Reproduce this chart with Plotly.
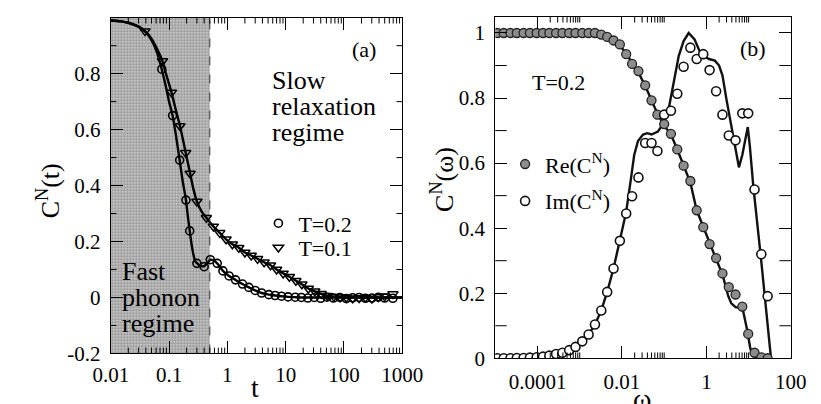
import plotly.graph_objects as go

W, H = 821, 404
FONT = "Liberation Serif"

# ---------------- Panel (a) data ----------------
t_circ_02 = [0.075, 0.115, 0.152, 0.195, 0.226, 0.30, 0.40, 0.51, 0.67, 0.84, 1.07, 1.38, 1.82, 2.34, 3.0,
             3.87, 5.15, 6.6, 8.5, 11, 14.6, 18.6, 24, 31, 40, 51, 66, 85, 110, 141, 182, 234, 302, 389, 501, 692]
c_circ_02 = [0.816, 0.650, 0.491, 0.348, 0.238, 0.122, 0.110, 0.135, 0.122, 0.095, 0.077, 0.063, 0.048, 0.036, 0.025,
             0.016, 0.010, 0.007, 0.0045, 0.002, 0.001, 0.0, -0.002, 0.0, -0.003, 0.001, -0.002, 0.0, -0.004, -0.001,
             0.0, -0.003, -0.002, 0.001, -0.002, -0.003]

t_tri_01 = [0.0387, 0.077, 0.11, 0.154, 0.193, 0.23, 0.30, 0.436, 0.575, 0.74, 0.95, 1.22, 1.57, 2.0, 2.57, 3.3,
            4.27, 5.5, 7.0, 9.06, 11.6, 15, 19, 24.5, 31.6, 40.7, 52, 67, 86, 110, 141, 182, 234, 302, 389, 501, 692]
c_tri_01 = [0.952, 0.845, 0.733, 0.613, 0.517, 0.443, 0.343, 0.285, 0.254, 0.231, 0.208, 0.190, 0.178, 0.161, 0.150,
            0.138, 0.126, 0.115, 0.100, 0.086, 0.074, 0.060, 0.047, 0.032, 0.022, 0.013, 0.006, 0.003, 0.001, 0.0,
            -0.003, -0.002, 0.0, -0.004, 0.002, 0.004, 0.012]

t_line_02 = [0.01, 0.015, 0.02, 0.03, 0.04, 0.05, 0.06, 0.075, 0.09, 0.1, 0.115, 0.13, 0.152, 0.17, 0.195, 0.21,
             0.226, 0.25, 0.28, 0.32, 0.36, 0.40, 0.45, 0.51, 0.58, 0.67, 0.84, 1.07, 1.38, 1.82, 2.34, 3.0, 3.87,
             5.15, 6.6, 8.5, 11, 15, 20, 30, 50, 100, 200, 500, 1000]
c_line_02 = [0.990, 0.987, 0.982, 0.968, 0.948, 0.920, 0.884, 0.816, 0.745, 0.700, 0.650, 0.585, 0.491, 0.42, 0.348,
             0.29, 0.238, 0.175, 0.13, 0.118, 0.112, 0.112, 0.122, 0.135, 0.132, 0.122, 0.095, 0.077, 0.063, 0.048,
             0.036, 0.025, 0.016, 0.010, 0.007, 0.0045, 0.002, 0.001, 0.0, 0.0, 0.0, 0.0, 0.0, 0.0, 0.0]

t_line_01 = [0.01, 0.015, 0.02, 0.03, 0.0387, 0.05, 0.06, 0.077, 0.09, 0.11, 0.13, 0.154, 0.175, 0.193, 0.23, 0.26,
             0.30, 0.36, 0.436, 0.575, 0.74, 0.95, 1.22, 1.57, 2.0, 2.57, 3.3, 4.27, 5.5, 7.0, 9.06, 11.6, 15, 19,
             24.5, 31.6, 40.7, 52, 67, 86, 110, 200, 500, 1000]
c_line_01 = [0.990, 0.987, 0.982, 0.968, 0.952, 0.925, 0.895, 0.845, 0.795, 0.733, 0.672, 0.613, 0.56, 0.517, 0.443,
             0.39, 0.343, 0.308, 0.285, 0.254, 0.231, 0.208, 0.190, 0.178, 0.161, 0.150, 0.138, 0.126, 0.115, 0.100,
             0.086, 0.074, 0.060, 0.047, 0.032, 0.022, 0.013, 0.006, 0.003, 0.001, 0.0, 0.0, 0.0, 0.0]

phonon_boundary = 0.5
a_xrange_log = [-2, 3]
a_yrange = [-0.2, 1.0]
a_xticks = [0.01, 0.1, 1, 10, 100, 1000]
a_xticktext = ["0.01", "0.1", "1", "10", "100", "1000"]
a_yticks = [-0.2, 0, 0.2, 0.4, 0.6, 0.8]
a_yticktext = ["-0.2", "0", "0.2", "0.4", "0.6", "0.8"]
a_yminor = [-0.1, 0.1, 0.3, 0.5, 0.7, 0.9]
a_xminor = [m * d for d in [0.01, 0.1, 1, 10, 100] for m in range(2, 10)]

# ---------------- Panel (b) data ----------------
omega_pts = [1.122e-5, 1.585e-5, 2.291e-5, 3.236e-5, 4.677e-5, 6.607e-5, 9.55e-5, 1.349e-4, 1.905e-4, 2.754e-4,
             3.890e-4, 5.623e-4, 7.943e-4, 1.148e-3, 1.622e-3, 2.291e-3, 3.236e-3, 4.467e-3, 6.310e-3, 8.913e-3,
             1.259e-2, 1.738e-2, 2.455e-2, 3.548e-2, 5.012e-2, 6.918e-2, 0.1, 0.1445, 0.2042, 0.2884, 0.4169,
             0.5888, 0.8414, 1.189, 1.698, 2.399, 3.388, 4.898, 7.079, 9.772, 13.80, 19.95, 28.18]
re_pts = [1.0] * 16 + [0.995, 0.988, 0.977, 0.965, 0.935, 0.905, 0.883, 0.839, 0.793, 0.749, 0.72, 0.690, 0.642,
                       0.592, 0.545, 0.455, 0.403, 0.351, 0.308, 0.261, 0.219, 0.196, 0.159, 0.075, 0.017, 0.003, 0.0]
im_pts = [0.0, 0.0, 0.0, 0.001, 0.001, 0.002, 0.003, 0.005, 0.008, 0.013, 0.017, 0.025, 0.035, 0.052, 0.073, 0.104,
          0.147, 0.204, 0.276, 0.361, 0.445, 0.498, 0.556, 0.662, 0.662, 0.637, 0.749, 0.761, 0.813, 0.896, 0.955,
          0.920, 0.935, 0.886, 0.821, 0.749, 0.685, 0.670, 0.753, 0.753, 0.519, 0.320, 0.191]

omega_im_line = [1e-5, 3.162e-5, 9.55e-5, 1.905e-4, 3.890e-4, 7.943e-4, 1.148e-3, 1.622e-3, 2.291e-3, 3.236e-3,
                 4.467e-3, 6.310e-3, 8.913e-3, 1.259e-2, 1.585e-2, 1.950e-2, 2.399e-2, 3.162e-2, 3.981e-2, 5.012e-2,
                 7.079e-2, 0.1, 0.1318, 0.1698, 0.2213, 0.2884, 0.3802, 0.5248, 0.7413, 1.148, 1.585, 1.995, 2.399,
                 2.985, 3.715, 4.571, 5.888, 7.079, 9.550, 10.72, 12.88, 19.50, 28.18, 33.88]
im_line = [0.0, 0.0008, 0.003, 0.008, 0.017, 0.035, 0.052, 0.073, 0.104, 0.147, 0.204, 0.276, 0.361, 0.45, 0.54,
           0.625, 0.668, 0.688, 0.692, 0.688, 0.697, 0.726, 0.776, 0.856, 0.930, 0.975, 1.0, 0.98, 0.935, 0.92,
           0.915, 0.90, 0.87, 0.796, 0.726, 0.657, 0.587, 0.625, 0.711, 0.65, 0.53, 0.31, 0.11, 0.0]

omega_re_line = [1e-5, 1e-3, 2.291e-3, 3.236e-3, 4.467e-3, 6.310e-3, 8.913e-3, 1.259e-2, 1.738e-2, 2.455e-2,
                 3.548e-2, 5.012e-2, 6.918e-2, 0.1, 0.1445, 0.2042, 0.2884, 0.4169, 0.5888, 0.8414, 1.189, 1.698,
                 2.399, 2.754, 3.311, 3.890, 4.898, 6.310, 7.413, 9.120, 10.96, 13.49, 19.95, 28.18]
re_line = [1.0, 1.0, 0.998, 0.993, 0.986, 0.976, 0.962, 0.937, 0.907, 0.878, 0.838, 0.795, 0.752, 0.715, 0.688,
           0.642, 0.592, 0.54, 0.455, 0.403, 0.351, 0.305, 0.258, 0.229, 0.19, 0.169, 0.157, 0.155, 0.145, 0.09,
           0.03, 0.007, 0.0, 0.0]

b_xrange_log = [-5, 2]
b_yrange = [0, 1.05]
b_xticks = [1e-4, 1e-2, 1, 100]
b_xticktext = ["0.0001", "0.01", "1", "100"]
b_yticks = [0, 0.2, 0.4, 0.6, 0.8, 1.0]
b_yticktext = ["0", "0.2", "0.4", "0.6", "0.8", "1"]
b_yminor = [0.1, 0.3, 0.5, 0.7, 0.9]
b_xminor = [m * d for d in [1e-4, 1e-2, 1] for m in range(2, 11)]


def px(x):
    return x / W


def py(y):
    return 1 - y / H


fig = go.Figure()

# shaded fast-phonon region
fig.add_trace(go.Scatter(
    x=[a_xticks[0], phonon_boundary, phonon_boundary, a_xticks[0], a_xticks[0]],
    y=[a_yrange[0], a_yrange[0], a_yrange[1], a_yrange[1], a_yrange[0]],
    mode="lines", fill="toself", line=dict(width=0),
    fillpattern=dict(shape=".", fgcolor="#505050", bgcolor="#d4d4d4", size=3, solidity=0.55),
    hoverinfo="skip", showlegend=False, xaxis="x", yaxis="y"))

LW = 2.4
fig.add_trace(go.Scatter(x=t_line_02, y=c_line_02, mode="lines", line=dict(color="black", width=LW, shape="spline", smoothing=0.6),
                         showlegend=False, xaxis="x", yaxis="y"))
fig.add_trace(go.Scatter(x=t_line_01, y=c_line_01, mode="lines", line=dict(color="black", width=LW, shape="spline", smoothing=0.6),
                         showlegend=False, xaxis="x", yaxis="y"))
fig.add_trace(go.Scatter(x=t_circ_02, y=c_circ_02, mode="markers", name="T=0.2",
                         marker=dict(symbol="circle-open", size=8, color="black", line=dict(width=1.6)),
                         legend="legend", xaxis="x", yaxis="y"))
fig.add_trace(go.Scatter(x=t_tri_01, y=c_tri_01, mode="markers", name="T=0.1",
                         marker=dict(symbol="triangle-down-open", size=9, color="black", line=dict(width=1.5)),
                         legend="legend2", xaxis="x", yaxis="y"))

# panel (b)
fig.add_trace(go.Scatter(x=omega_re_line, y=re_line, mode="lines", line=dict(color="#111", width=LW),
                         showlegend=False, xaxis="x2", yaxis="y2"))
fig.add_trace(go.Scatter(x=omega_im_line, y=im_line, mode="lines", line=dict(color="#111", width=LW),
                         showlegend=False, xaxis="x2", yaxis="y2"))
fig.add_trace(go.Scatter(x=omega_pts, y=re_pts, mode="markers", name="Re(C<sup>N</sup>)",
                         marker=dict(symbol="circle", size=9, color="#8c8c8c", line=dict(width=1.3, color="#222")),
                         legend="legend3", xaxis="x2", yaxis="y2"))
fig.add_trace(go.Scatter(x=omega_pts, y=im_pts, mode="markers", name="Im(C<sup>N</sup>)",
                         marker=dict(symbol="circle", size=9, color="white", line=dict(width=1.6, color="#111")),
                         legend="legend4", xaxis="x2", yaxis="y2"))

tickfont = dict(family=FONT, size=21, color="black")
common = dict(showline=True, linecolor="black", linewidth=1, mirror="allticks", ticks="inside",
              tickcolor="black", tickwidth=1, ticklen=12, showgrid=False, zeroline=False, tickfont=tickfont)

fig.update_layout(
    width=W, height=H, margin=dict(l=0, r=0, t=0, b=0),
    paper_bgcolor="white", plot_bgcolor="white",
    font=dict(family=FONT, size=21, color="black"),
    xaxis=dict(type="log", range=a_xrange_log, domain=[px(89), px(395)], anchor="y",
               tickmode="array", tickvals=a_xticks, ticktext=a_xticktext, ticklabelstandoff=2, **common),
    yaxis=dict(range=a_yrange, domain=[py(356), py(10)], anchor="x",
               tickmode="array", tickvals=a_yticks, ticktext=a_yticktext, ticklabelstandoff=5, **common),
    xaxis2=dict(type="log", range=b_xrange_log, domain=[px(492.7), px(803)], anchor="y2",
                tickmode="array", tickvals=b_xticks, ticktext=b_xticktext, ticklabelstandoff=5, **common),
    yaxis2=dict(range=b_yrange, domain=[py(361), py(9)], anchor="x2",
                tickmode="array", tickvals=b_yticks, ticktext=b_yticktext, ticklabelstandoff=5, **common),
    showlegend=True,
)

legfont = dict(family=FONT, size=22, color="black")
for name, (lx, ly) in {"legend": (244, 222), "legend2": (244, 247),
                       "legend3": (503, 161), "legend4": (503, 199)}.items():
    fig.update_layout({name: dict(x=px(lx), y=py(ly), xanchor="left", yanchor="middle",
                                  bgcolor="rgba(0,0,0,0)", borderwidth=0, font=legfont)})

# dashed boundary
fig.add_shape(type="line", xref="x", yref="y domain", x0=phonon_boundary, x1=phonon_boundary, y0=0, y1=1,
              line=dict(color="#333", width=1, dash="dash"))

# minor ticks drawn as short inside ticks on all four sides
tick_line = dict(color="black", width=1)
a_h = 356 - 10
a_w = 395 - 89
b_h = 361 - 9
b_w = 803 - 492.7
for v in a_xminor:
    fig.add_shape(type="line", xref="x", yref="y domain", x0=v, x1=v, y0=0, y1=6 / a_h, line=tick_line)
    fig.add_shape(type="line", xref="x", yref="y domain", x0=v, x1=v, y0=1, y1=1 - 6 / a_h, line=tick_line)
for v in a_yminor:
    fig.add_shape(type="line", xref="x domain", yref="y", x0=0, x1=6 / a_w, y0=v, y1=v, line=tick_line)
    fig.add_shape(type="line", xref="x domain", yref="y", x0=1, x1=1 - 6 / a_w, y0=v, y1=v, line=tick_line)
for v in b_xminor:
    fig.add_shape(type="line", xref="x2", yref="y2 domain", x0=v, x1=v, y0=0, y1=6 / b_h, line=tick_line)
    fig.add_shape(type="line", xref="x2", yref="y2 domain", x0=v, x1=v, y0=1, y1=1 - 6 / b_h, line=tick_line)
for v in b_yminor:
    fig.add_shape(type="line", xref="x2 domain", yref="y2", x0=0, x1=12 / b_w, y0=v, y1=v, line=tick_line)
    fig.add_shape(type="line", xref="x2 domain", yref="y2", x0=1, x1=1 - 12 / b_w, y0=v, y1=v, line=tick_line)

ann = []


def text(x, y, s, size, xanchor="center", angle=0):
    ann.append(dict(x=px(x), y=py(y), xref="paper", yref="paper", text=s, showarrow=False,
                    xanchor=xanchor, yanchor="middle", textangle=angle,
                    font=dict(family=FONT, size=size, color="black")))


text(355, 43, "(a)", 22)
text(256, 75, "Slow", 26, "left")
text(256, 102, "relaxation", 26, "left")
text(256, 128, "regime", 26, "left")
text(99, 272, "Fast", 26, "left")
text(99, 298, "phonon", 26, "left")
text(99, 325, "regime", 26, "left")
text(763, 42, "(b)", 22)
text(529, 77, "T=0.2", 22, "left")
text(24, 188, "C<sup>N</sup>(t)", 26, angle=-90)
text(240, 391, "t", 28)
text(438, 177, "C<sup>N</sup>(ω)", 26, angle=-90)
text(647, 402, "ω", 28)
fig.update_layout(annotations=ann)

fig.write_html("out.html")
